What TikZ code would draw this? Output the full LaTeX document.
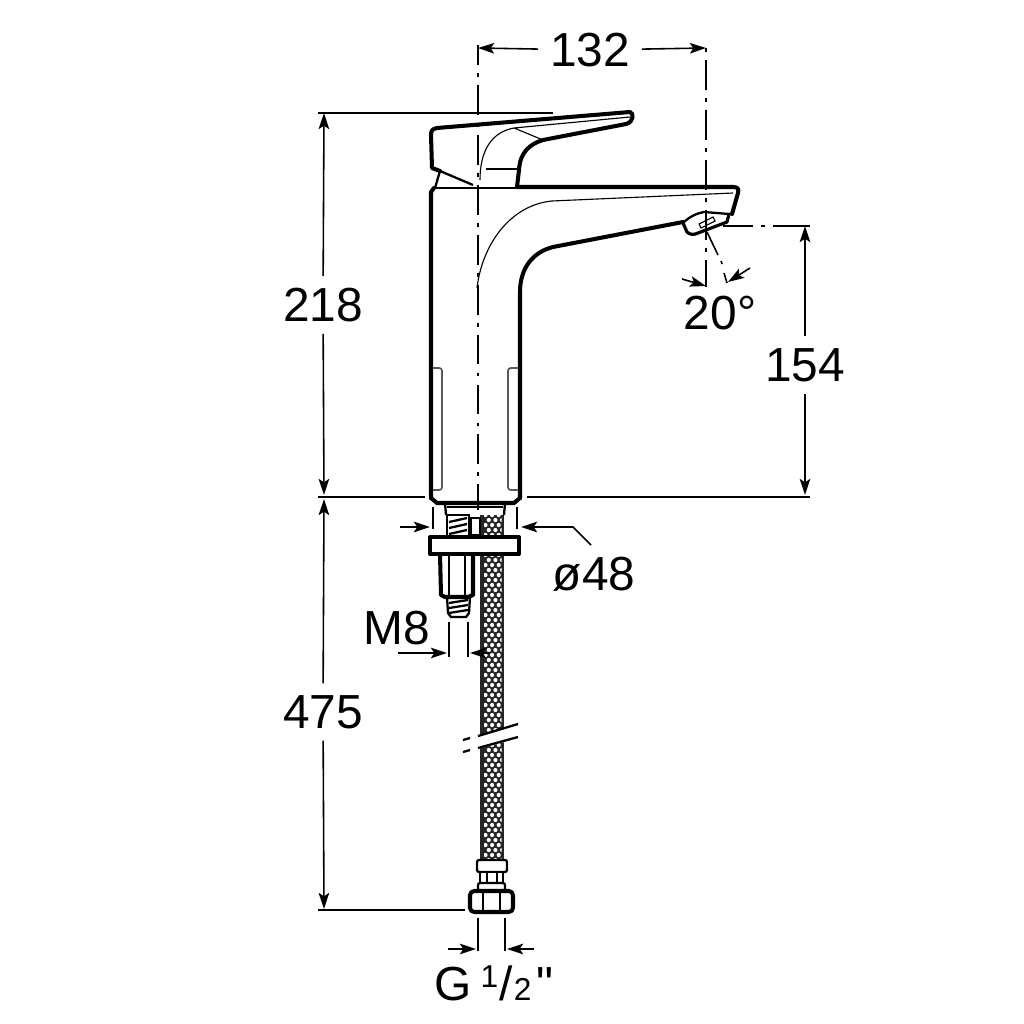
\documentclass[tikz,border=0pt]{standalone}
\usepackage{fontspec}
\setmainfont{Liberation Sans}
\newfontfamily\plainfont{Liberation Sans}
\usepackage{xcolor}
\usetikzlibrary{arrows.meta,calc}
\tikzset{
  outline/.style={line width=1.15pt,line join=round,line cap=round},
  midline/.style={line width=0.65pt},
  thinline/.style={line width=0.32pt},
  slotline/.style={line width=0.5pt,draw=black!65,rounded corners=0.8pt},
  dimline/.style={line width=0.45pt,-{Stealth[length=4.6pt,width=3pt,inset=1pt]}},
  extline/.style={line width=0.45pt},
  axisline/.style={line width=0.45pt,dash pattern=on 8.5pt off 2.3pt on 1.1pt off 2.3pt},
  dimtext/.style={font=\fontsize{13.6}{15}\selectfont,inner sep=3.2pt}
}
\begin{document}
\begin{tikzpicture}[x=0.01cm,y=-0.01cm]
    \useasboundingbox (0,0) rectangle (1024,1024);
    % centre lines
    \draw[axisline,dash phase=2.85pt] (478,45) -- (478,510);
    \draw[axisline,dash phase=10.8pt] (706,48) -- (706,287);
    % hose
    \fill[black!85] (480,515) rectangle (504,862);
    \begin{scope}
        \clip (484,515) rectangle (501.5,862);
        \foreach \r in {0,...,69} {
            \pgfmathsetmacro{\ypos}{515+\r*5}
            \pgfmathsetmacro{\xoff}{mod(\r,2)*3.3}
            \foreach \c in {0,...,2} {
                \fill[white] (485.5+\xoff+\c*6.6,\ypos) circle (2.1);
            }
        }
    \end{scope}
    \fill[white] (462,741) -- (520,725) -- (520,738) -- (462,753) -- cycle;
    \draw[midline] (463,740) -- (470,738) (478,736) -- (518,724);
    \draw[midline] (463,752) -- (470,750) (478,748) -- (518,737);
    % lever
    \draw[outline] (517,187) -- (519,170) .. controls (520,152) and (530,144) .. (543,140)
        -- (626,124) .. controls (634,122) and (634,113) .. (630,112)
        -- (437,128) .. controls (432,129) and (431,131) .. (431,135) -- (432,168) -- (440,171);
    \draw[midline] (440,171) -- (473,185);
    \draw[midline] (440,171) -- (435,188);
    \draw[thinline] (514,128) -- (630,117) (514,128) -- (543,140);
    \draw[thinline] (480,180) .. controls (480,150) and (492,132) .. (514,128);
    \draw[thinline] (486,169) -- (518,169);
    \draw[thinline] (436,188) -- (517,188);
    % body and spout
    \draw[outline] (431,498) -- (431,192) -- (434,188);
    \draw[outline] (517,187) -- (733,187) .. controls (738,187) and (739,189) .. (738,193) -- (732,214);
    \draw[outline] (520,498) -- (520,292) .. controls (520,268) and (533,252) .. (553,247) -- (683,222);
    \draw[thinline] (477,288) .. controls (482,245) and (510,205) .. (552,201) -- (733,193);
    \draw[slotline] (433,368) -- (442,368) -- (442,490) -- (433,490);
    \draw[slotline] (518,368) -- (508,368) -- (508,490) -- (518,490);
    % aerator
    \draw[outline,line width=0.9pt] (683,223) -- (687,232) .. controls (690,235) and (694,235) .. (698,233)
        -- (727,222) -- (729,214);
    \draw[midline] (683,223) .. controls (690,216) and (698,213) .. (704,212) -- (729,214);
    \draw[thinline] (699,224) -- (713,217) -- (715,221) -- (701,228) -- cycle;
    % base and collar
    \draw[outline] (431,498) -- (437,503) -- (514,503) -- (520,498);
    \draw[midline] (445,503) -- (446,515) (505,503) -- (504,515);
    \draw[thinline] (447,507) -- (503,507);
    % stud
    \draw[midline] (447,515) rectangle (469,537);
    \foreach \ypos in {520,526,532} {
        \draw[midline] (449,\ypos+2) -- (467,\ypos-2);
    }
    \draw[midline] (471,518) rectangle (480,535);
    \draw[outline,fill=white] (430,537) rectangle (519,554);
    \draw[outline] (440,554) -- (441,595) -- (445,597) -- (468,597) -- (473,595) -- (473,554);
    \draw[thinline] (449,554) -- (449,597) (465,554) -- (465,597);
    \draw[midline] (447,597) -- (448,613) -- (451,617) -- (466,617) -- (469,613) -- (470,597);
    \foreach \ypos in {602,607,612} {
        \draw[midline] (449,\ypos+1) -- (468,\ypos-2);
    }
    % hose fitting
    \draw[midline,fill=white,rounded corners=0.6pt] (477,860) rectangle (507,872);
    \draw[midline,fill=white] (480,872) rectangle (503,883);
    \draw[thinline] (487,873) -- (487,883) (497,873) -- (497,883);
    \draw[midline,fill=white,rounded corners=0.6pt] (478,883) rectangle (505,891);
    \draw[outline,fill=white,rounded corners=1.2pt] (470,891) rectangle (513,912);
    \draw[thinline] (483,892) -- (483,911) (500,892) -- (500,911);
    % labels
    \node[dimtext] (width) at (590,50) {132};
    \node[dimtext] (height) at (323,305) {218};
    \node[dimtext] (spout) at (805,365) {154};
    \node[dimtext] (length) at (323,712) {475};
    \node[dimtext] (angle) at (720,313) {20°};
    \node[dimtext] (diam) at (594,574) {ø48};
    \node[dimtext] (stud) at (397,628) {M8};
    \node[dimtext] (thread) at (494,983) {G\kern0.18em\raisebox{3.7pt}{\fontsize{9}{10}\selectfont 1}\kern0.03em/\kern0.02em{\fontsize{9}{10}\selectfont 2}\kern0.1em{\plainfont"}};
    % dimension ends
    \coordinate (widthl) at (478,48);
    \coordinate (widthr) at (706,48);
    \coordinate (heightt) at (324,113);
    \coordinate (heightb) at (324,495);
    \coordinate (lengtht) at (324,499);
    \coordinate (lengthb) at (324,909);
    \coordinate (spoutt) at (805,226);
    \coordinate (spoutb) at (805,495);
    % dimensions
    \draw[dimline] (width) -- (widthl);
    \draw[dimline] (width) -- (widthr);
    \draw[dimline] (height) -- (heightt);
    \draw[dimline] (height) -- (heightb);
    \draw[dimline] (length) -- (lengtht);
    \draw[dimline] (length) -- (lengthb);
    \draw[dimline] (spout) -- (spoutt);
    \draw[dimline] (spout) -- (spoutb);
    % extension lines
    \draw[extline] (318,113) -- (553,113);
    \draw[extline] (318,497) -- (425,497);
    \draw[extline] (527,497) -- (810,497);
    \draw[extline] (318,910) -- (465,910);
    \draw[extline] (723,226) -- (753,226);
    \draw[extline] (761,226) -- (765,226) (773,226) -- (810,226);
    % spray angle
    \draw[extline] (707,232) -- (718,255) (721,261) -- (722,264) (724,273) -- (727,283);
    \draw[dimline] (682,279) -- (706,286);
    \draw[dimline] (750,268) -- (728,282);
    % base diameter
    \coordinate (diaml) at (430,527);
    \coordinate (diamr) at (521,527);
    \draw[extline] (433,507) -- (433,529) (517,507) -- (517,529);
    \draw[dimline] (400,527) -- (diaml);
    \draw[dimline] (591,545) -- (573,527) -- (diamr);
    % stud thread
    \coordinate (studl) at (447,653);
    \coordinate (studr) at (470,653);
    \draw[extline] (449,622) -- (449,657) (468,622) -- (468,657);
    \draw[dimline] (398,653) -- (studl);
    \draw[dimline] (490,653) -- (studr);
    % hose thread
    \coordinate (threadl) at (476,949);
    \coordinate (threadr) at (507,949);
    \draw[extline] (478,918) -- (478,951) (505,918) -- (505,951);
    \draw[dimline] (448,949) -- (threadl);
    \draw[dimline] (534,949) -- (threadr);
\end{tikzpicture}
\end{document}
